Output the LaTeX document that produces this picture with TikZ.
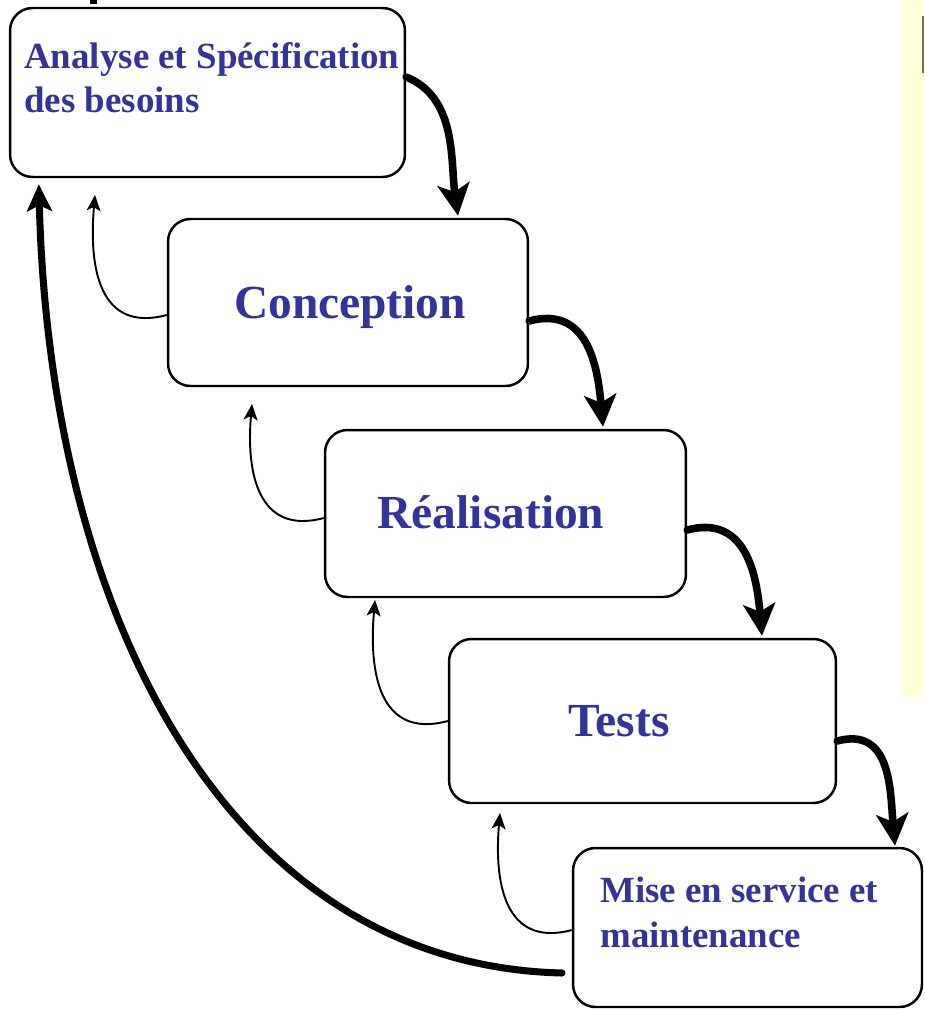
\documentclass[tikz,border=0pt]{standalone}
\usepackage{fontspec}
\setmainfont{Liberation Serif}
\usetikzlibrary{arrows.meta,positioning}
\definecolor{titre}{RGB}{51,51,153}
\definecolor{fond}{RGB}{255,255,218}
\definecolor{trait}{RGB}{120,120,60}

\begin{document}
\begin{tikzpicture}[x=0.02cm,y=-0.02cm,
    etape/.style={draw,line width=1.4pt,rounded corners=0.45cm,inner sep=0pt},
    grand/.style={font=\fontsize{27}{32}\selectfont\bfseries,text=titre,inner sep=0pt},
    petit/.style={font=\fontsize{21}{25.5}\selectfont\bfseries,text=titre,inner sep=0pt,align=left},
    suivant/.style={line width=4.3pt,line cap=round,-{Stealth[length=0.64cm,width=0.64cm,inset=0.16cm]}},
    boucle/.style={line width=4pt,line cap=round,-{Stealth[length=0.54cm,width=0.5cm,inset=0.12cm]}},
    retour/.style={line width=1.1pt,-{Stealth[length=0.32cm,width=0.28cm,inset=0.08cm]}}]
    \useasboundingbox (0,0) rectangle (924,1010);

    % fond de la diapositive
    \fill[fond] (901,0) rectangle (924,697);
    \fill[trait] (922,16) rectangle (924,73);
    \fill (90,0) rectangle (97,4);

    % les etapes
    \node[etape,minimum width=7.9cm,minimum height=3.38cm] (analyse) at (207.5,92.5) {};
    \node[etape,minimum width=7.2cm,minimum height=3.34cm] (conception) at (348,302.5) {};
    \node[etape,minimum width=7.22cm,minimum height=3.34cm] (realisation) at (505.5,513.5) {};
    \node[etape,minimum width=7.74cm,minimum height=3.28cm] (tests) at (642.5,721) {};
    \node[etape,minimum width=6.98cm,minimum height=3.18cm] (mise) at (747.5,927.5) {};

    \node[petit,anchor=base west] (t-analyse) at (24,113) {Analyse et Spécification\\des besoins};
    \node[grand,anchor=base] (t-conception) at (350,318) {Conception};
    \node[grand,anchor=base] (t-realisation) at (491,528) {Réalisation};
    \node[grand,anchor=base] (t-tests) at (619,736) {Tests};
    \node[petit,anchor=base west] (t-mise) at (600,947) {Mise en service et\\maintenance};

    % passage a l'etape suivante
    \draw[suivant] ([yshift=0.31cm]analyse.east) to[out=-22,in=98,looseness=0.95] ([xshift=2.2cm,yshift=0.04cm]conception.north);
    \draw[suivant] ([yshift=-0.37cm]conception.east) to[out=15,in=95,looseness=1.2] ([xshift=1.95cm,yshift=0.04cm]realisation.north);
    \draw[suivant] ([yshift=-0.33cm]realisation.east) to[out=15,in=95,looseness=1.2] ([xshift=2.39cm,yshift=0.04cm]tests.north);
    \draw[suivant] ([yshift=-0.4cm]tests.east) to[out=15,in=95,looseness=1.2] ([xshift=2.95cm,yshift=0.02cm]mise.north);

    % retours en arriere
    \coordinate (r1) at (95,195);
    \coordinate (r2) at (252,404);
    \coordinate (r3) at (375,600);
    \coordinate (r4) at (500,813);
    \draw[retour] ([yshift=-0.25cm]conception.west) to[out=195,in=-95,looseness=1.3] (r1);
    \draw[retour] ([yshift=-0.09cm]realisation.west) to[out=195,in=-95,looseness=1.3] (r2);
    \draw[retour] (tests.west) to[out=195,in=-95,looseness=1.3] (r3);
    \draw[retour] ([yshift=-0.05cm]mise.west) to[out=195,in=-95,looseness=1.3] (r4);

    \coordinate (depart) at (562,973);
    \draw[boucle] (depart) .. controls (230,965) and (50,620) .. ([xshift=0.6cm,yshift=-0.12cm]analyse.south west);
\end{tikzpicture}
\end{document}
